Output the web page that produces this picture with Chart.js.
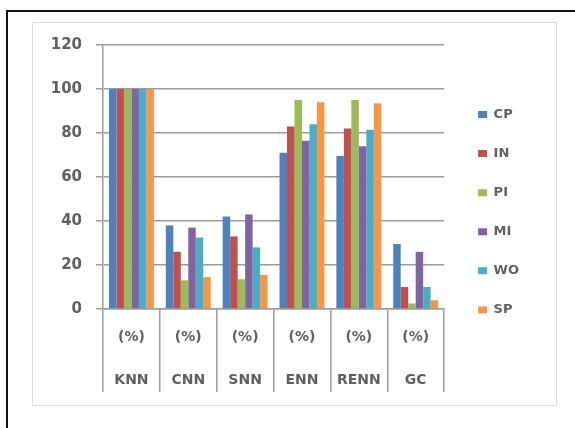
<!DOCTYPE html>
<html>
<head>
<meta charset="utf-8">
<script src="https://cdn.jsdelivr.net/npm/chart.js@4.4.1/dist/chart.umd.min.js"></script>
<style>
  html, body { margin: 0; padding: 0; background: #fff; }
  #wrap { position: relative; width: 575px; height: 428px; overflow: hidden; }
  #edge { position: absolute; left: 6px; top: 10px; width: 700px; height: 600px;
          border-left: 2px solid #111; border-top: 2px solid #111; }
  #frame { position: absolute; left: 32px; top: 22px; width: 523px; height: 382px;
           border: 1px solid #dadada; }
  canvas { position: absolute; left: 0; top: 0; }
</style>
</head>
<body>
<div id="wrap">
  <div id="edge"></div>
  <div id="frame"></div>
  <canvas id="c" width="575" height="428"></canvas>
</div>
<script>
// Classifier groups along the x axis, each shown with its unit above it
const categories = ['KNN', 'CNN', 'SNN', 'ENN', 'RENN', 'GC'];
const unitLabel = '(%)';

// Percentage per dataset, one value per classifier group
const cpValues = [100, 38, 42, 71, 69.5, 29.5];
const inValues = [100, 26, 33, 83, 82, 10];
const piValues = [100, 13, 13.5, 95, 95, 2.5];
const miValues = [100, 37, 43, 76.5, 74, 26];
const woValues = [100, 32.5, 28, 84, 81.5, 10];
const spValues = [100, 14.5, 15.5, 94, 93.5, 4];

// Value axis ticks
const yTicks = [0, 20, 40, 60, 80, 100, 120];

const seriesNames = ['CP', 'IN', 'PI', 'MI', 'WO', 'SP'];
const seriesValues = [cpValues, inValues, piValues, miValues, woValues, spValues];
const seriesColors = ['#4F81BD', '#C0504D', '#9BBB59', '#8064A2', '#4BACC6', '#F79646'];

const textColor = '#606060';
const lineColor = '#9c9c9c';
const fontFamily = "'DejaVu Sans', sans-serif";

// Category axis: separator ticks run 83px below the axis, two label rows inside them
const sepLength = 83;
const labelRowHeight = 43;
const labelTop = 6.5;

const datasets = seriesNames.map((name, i) => ({
  label: name,
  data: seriesValues[i],
  backgroundColor: seriesColors[i],
  borderWidth: 0,
  barPercentage: 1.0,
  categoryPercentage: 0.79
}));

new Chart(document.getElementById('c'), {
  type: 'bar',
  data: {
    labels: categories.map(c => [unitLabel, c]),
    datasets: datasets
  },
  options: {
    responsive: false,
    animation: false,
    layout: { padding: { left: 20, right: 46, top: 15, bottom: 26.5 } },
    scales: {
      x: {
        afterFit: (scale) => { scale.height = labelTop + 2 * labelRowHeight; },
        grid: {
          display: true,
          offset: true,
          drawOnChartArea: false,
          drawTicks: true,
          tickLength: sepLength,
          color: lineColor,
          lineWidth: 1.5
        },
        border: { display: true, color: lineColor, width: 1.5 },
        ticks: {
          autoSkip: false,
          maxRotation: 0,
          minRotation: 0,
          padding: labelTop - sepLength,
          color: textColor,
          font: { family: fontFamily, size: 14, weight: 'bold', lineHeight: labelRowHeight / 14 }
        }
      },
      y: {
        min: yTicks[0],
        max: yTicks[yTicks.length - 1],
        afterBuildTicks: (scale) => { scale.ticks = yTicks.map(v => ({ value: v })); },
        afterFit: (scale) => { scale.width = 83; },
        grid: {
          color: lineColor,
          lineWidth: 1.5,
          drawTicks: true,
          tickLength: 7
        },
        border: { display: true, color: lineColor, width: 1.5 },
        ticks: {
          padding: 14,
          color: textColor,
          font: { family: fontFamily, size: 15, weight: 'bold' }
        }
      }
    },
    plugins: {
      title: {
        display: true,
        text: '',
        font: { size: 10, lineHeight: 1 },
        padding: { top: 0, bottom: 20 }
      },
      tooltip: { enabled: false },
      legend: {
        position: 'right',
        align: 'center',
        labels: {
          boxWidth: 9,
          boxHeight: 7,
          padding: 34,
          color: textColor,
          font: { family: fontFamily, size: 13, weight: 'bold', lineHeight: 5.1 / 13 },
          generateLabels: (chart) =>
            Chart.defaults.plugins.legend.labels.generateLabels(chart).map(item => {
              item.text = [item.text];
              item.lineWidth = 0;
              return item;
            })
        }
      }
    }
  }
});
</script>
</body>
</html>
